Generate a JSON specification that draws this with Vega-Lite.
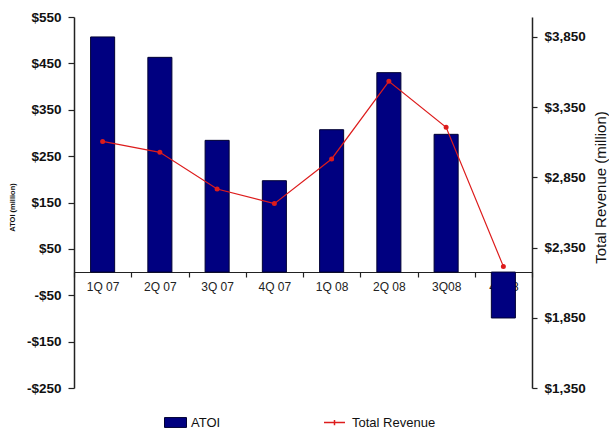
{
  "$schema": "https://vega.github.io/schema/vega-lite/v6.json",
  "width": 458,
  "height": 371,
  "autosize": "none",
  "padding": {"left": 74, "top": 17, "right": 77, "bottom": 44},
  "background": "white",
  "config": {"view": {"stroke": null}, "font": "Liberation Sans"},
  "data": {"values": [
    {"q": "1Q 07", "atoi": 507, "rev": 3106},
    {"q": "2Q 07", "atoi": 463, "rev": 3028},
    {"q": "3Q 07", "atoi": 284, "rev": 2767},
    {"q": "4Q 07", "atoi": 197, "rev": 2663},
    {"q": "1Q 08", "atoi": 307, "rev": 2981},
    {"q": "2Q 08", "atoi": 430, "rev": 3534},
    {"q": "3Q08", "atoi": 297, "rev": 3206},
    {"q": "4Q08", "atoi": -99, "rev": 2216}
  ]},
  "encoding": {
    "x": {
      "field": "q", "type": "ordinal", "sort": null,
      "scale": {"paddingInner": 0, "paddingOuter": 0},
      "axis": {
        "title": null, "orient": "bottom", "offset": -116, "tickBand": "extent",
        "tickSize": 5, "labelPadding": 4, "labelFontSize": 12, "labelColor": "#222",
        "labelAngle": 0, "domainColor": "#222", "domainWidth": 1.2, "tickColor": "#222", "tickWidth": 1.2
      }
    }
  },
  "layer": [
    {
      "mark": {"type": "bar", "width": {"band": 0.42}, "stroke": "#000033", "strokeWidth": 1},
      "encoding": {
        "y": {
          "field": "atoi", "type": "quantitative",
          "scale": {"domain": [-250, 550], "nice": false, "zero": false},
          "axis": {
            "title": "ATOI (million)", "grid": false,
            "values": [-250, -150, -50, 50, 150, 250, 350, 450, 550],
            "labelExpr": "datum.value < 0 ? '-$' + abs(datum.value) : '$' + datum.value",
            "labelFontSize": 13.5, "labelFontWeight": "bold", "labelColor": "#111",
            "tickSize": 6, "labelPadding": 7, "domainColor": "#222", "domainWidth": 1.5,
            "tickColor": "#222", "tickWidth": 1.2,
            "titleFontSize": 7.5, "titleFontWeight": "bold", "titleColor": "#111",
            "titleX": -62, "titleY": 190, "titleAngle": 270, "titleAlign": "center", "titleBaseline": "middle"
          }
        },
        "fill": {
          "datum": "ATOI", "scale": {"range": ["#000080"]},
          "legend": {
            "title": null, "orient": "none", "legendX": 90, "legendY": 394,
            "symbolType": "M-1,-0.45H1V0.45H-1Z", "symbolSize": 484,
            "symbolStrokeColor": "#000033", "symbolStrokeWidth": 1,
            "labelFontSize": 13, "labelColor": "#111", "labelOffset": 4
          }
        }
      }
    },
    {
      "mark": {"type": "line", "strokeWidth": 1.2, "point": {"filled": true, "size": 9, "color": "#dd1c1c"}},
      "encoding": {
        "y": {
          "field": "rev", "type": "quantitative",
          "scale": {"domain": [1350, 3992], "nice": false, "zero": false},
          "axis": {
            "orient": "right", "title": "Total Revenue (million)", "grid": false,
            "values": [1350, 1850, 2350, 2850, 3350, 3850],
            "labelExpr": "'$' + format(datum.value, ',')",
            "labelFontSize": 13.5, "labelFontWeight": "bold", "labelColor": "#111",
            "tickSize": 5, "labelPadding": 7, "domainColor": "#222", "domainWidth": 1.5,
            "tickColor": "#222", "tickWidth": 1.2,
            "titleFontSize": 15, "titleFontWeight": "normal", "titleColor": "#111",
            "titleX": 68, "titleY": 170, "titleAngle": 270, "titleAlign": "center", "titleBaseline": "middle"
          }
        },
        "stroke": {
          "datum": "Total Revenue", "scale": {"range": ["#dd1c1c"]},
          "legend": {
            "title": null, "orient": "none", "legendX": 249, "legendY": 394,
            "symbolType": "M-1,0H1M0,-0.25V0.25", "symbolSize": 441,
            "symbolStrokeWidth": 1.5,
            "labelFontSize": 13, "labelColor": "#111", "labelOffset": 6
          }
        }
      }
    }
  ],
  "resolve": {"scale": {"y": "independent"}}
}
